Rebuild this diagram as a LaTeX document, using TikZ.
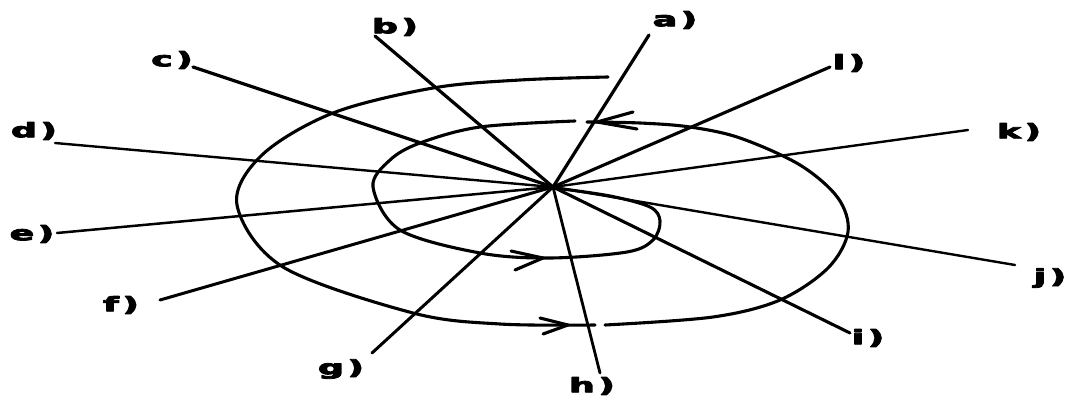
\documentclass[tikz,border=0pt]{standalone}
\usepackage{fontspec}
\newfontfamily\lblfont{DejaVu Sans}[BoldFeatures={FakeBold=4}]
\begin{document}
\begin{tikzpicture}[x=1pt, y=-1pt, line cap=round, line join=round,
    lbl/.style={font=\lblfont\bfseries\fontsize{20}{20}\selectfont, inner sep=0pt},
    curve/.style={line width=3.1pt, smooth, tension=0.55},
    barb/.style={line width=3.1pt}]
    \useasboundingbox (0,0) rectangle (1068,396);
    \coordinate (o) at (553,187);
    % spiral: outer turn, then second turn, then into the centre
    \draw[curve] plot coordinates {(608,77) (520,80) (433,88) (333,113) (262,155) (237,205) (283,267) (413,313) (500,324) (595,325)};
    \draw[curve] plot coordinates {(605,325) (713,317) (780,300) (828,268) (848,232) (838,198) (800,165) (740,138) (690,127) (640,123) (587,122)};
    \draw[curve] plot coordinates {(575,121) (480,127) (420,143) (390,160) (373,187) (400,230) (480,253) (550,258) (627,252) (653,240) (660,221) (650,207) (610,196) (555,188)};
    % open arrow heads on the spiral
    \draw[barb] (633,112) -- (597,122) -- (637,129);
    \draw[barb] (540,318) -- (568,325) -- (543,334);
    \draw[barb] (511,251) -- (543,258) -- (515,270);
    % labels
    \foreach \n/\x/\y in {a/675/20, b/395/27, c/172/60, d/34/131, e/32/234, f/121/305,
                          g/341/369, h/592/386, i/868/338, j/1050/278, k/1019/132, l/849/63}
        \node[lbl] (\n) at (\x,\y) {\scalebox{1.8}[1]{\n\kern2pt)}};
    % rays from the centre
    \foreach \n/\x/\y/\w in {a/649/35/3.2, b/375/36/3.2, c/193/67/3.2, d/55/143/2.4,
                             e/57/233/2.5, f/160/300/3, g/372/353/3, h/600/373/2.8,
                             i/850/333/3.1, j/1015/265/2.4, k/968/130/2.4, l/830/67/3.1} {
        \coordinate (e\n) at (\x,\y);
        \draw[line width=\w pt] (o) -- (e\n);
    }
\end{tikzpicture}
\end{document}
